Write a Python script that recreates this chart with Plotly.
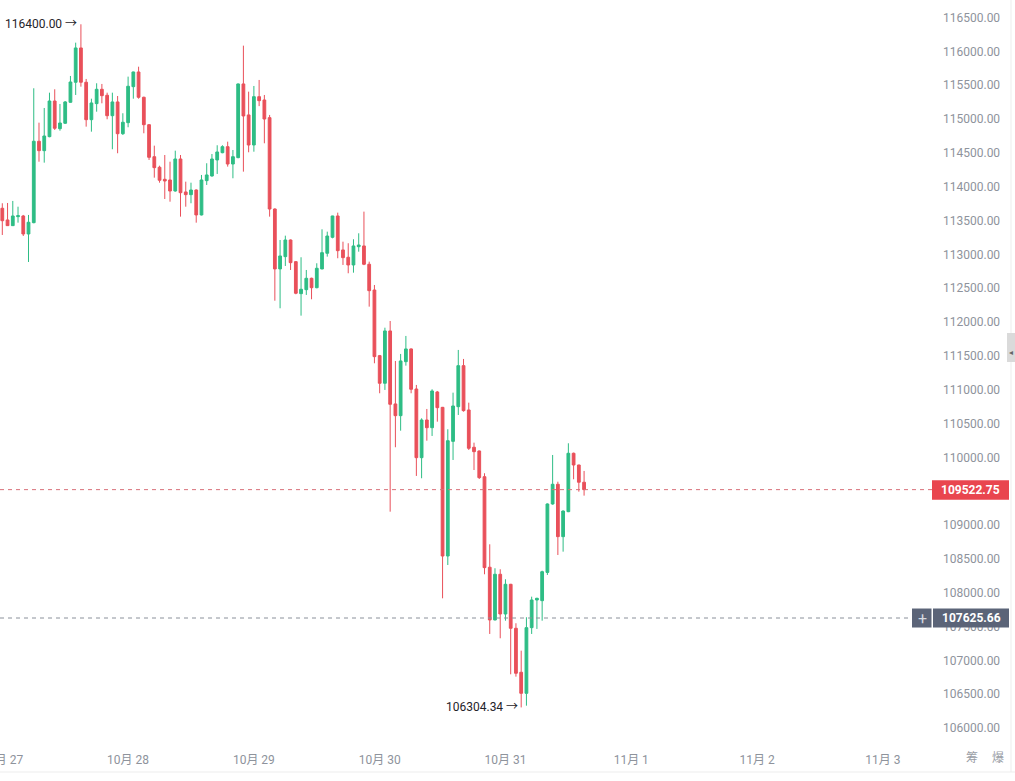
import pandas as pd
import plotly.graph_objects as go

# ---------------- data (hourly candles, from 10/27 00:00) ----------------
start_time = "2025-10-27 00:00"
opens = [113681, 113508, 113424, 113557, 113567, 113301, 113468, 114671, 114532, 114739,
         115266, 114857, 114937, 115247, 115543, 116050, 115543, 114990, 115227, 115439,
         115351, 115049, 115252, 114783, 114946, 115478, 115695, 115321, 114916, 114443,
         114287, 114109, 114099, 113936, 114409, 113922, 113882, 113951, 113582, 114089,
         114158, 114395, 114502, 114591, 114335, 114429, 115518, 115060, 114616, 115330,
         115281, 115020, 113670, 112784, 112966, 113212, 112892, 112419, 112478, 112646,
         112507, 112784, 113016, 113252, 113567, 113065, 112957, 112843, 113113, 113124,
         112853, 112473, 111503, 111095, 111868, 110789, 110616, 111414, 111602, 111010,
         109995, 110552, 110438, 110966, 110739, 108542, 110236, 110749, 111355, 110700,
         110149, 110094, 109714, 108376, 107597, 108272, 107685, 108124, 107474, 106824,
         106513, 107483, 107892, 107882, 108300, 109311, 109602, 108828, 109197, 110060,
         109887, 109632]
highs = [113755, 113759, 113789, 113704, 113582, 113582, 115454, 114946, 115163, 115389,
         115439, 115222, 115266, 115636, 116128, 116400, 115592, 115300, 115528, 115518,
         115389, 115389, 115340, 115085, 115626, 115700, 115773, 115330, 114925, 114606,
         114310, 114468, 114369, 114532, 114468, 114074, 114059, 113960, 114173, 114346,
         114483, 114612, 114612, 114665, 114542, 115525, 116084, 115404, 115488, 115577,
         115355, 115060, 113680, 113212, 113276, 113220, 112900, 112957, 112769, 112655,
         112868, 113370, 113335, 113570, 113616, 113187, 113164, 113223, 113311, 113631,
         112892, 112547, 111513, 111916, 112015, 111424, 111528, 111794, 111610, 111070,
         110577, 110715, 111006, 110981, 110745, 110415, 110956, 111587, 111454, 110808,
         110217, 110100, 109765, 108715, 108361, 108346, 108198, 108130, 107548, 107143,
         107637, 107941, 107925, 108325, 109320, 110035, 109640, 109215, 110208, 110070,
         109890, 109799]
lows = [113286, 113419, 113419, 113468, 113271, 112887, 113459, 114369, 114355, 114730,
        114838, 114827, 114926, 115241, 115355, 115478, 114887, 114813, 115108, 115232,
        114996, 114553, 114494, 114764, 114878, 115300, 115300, 114789, 114395, 114133,
        114059, 113818, 113778, 113926, 113557, 113704, 113755, 113468, 113575, 114025,
        114148, 114188, 114494, 114296, 114124, 114420, 114222, 114508, 114517, 115190,
        114641, 113557, 112315, 112203, 112828, 112769, 112410, 112094, 112400, 112336,
        112498, 112779, 112966, 113237, 112942, 112843, 112720, 112729, 113039, 112840,
        112227, 111390, 110947, 110996, 109197, 110149, 110394, 111355, 110947, 109725,
        109691, 110246, 110316, 110527, 107917, 108409, 109961, 110626, 110675, 110109,
        109813, 109680, 108272, 107390, 107590, 107326, 107586, 106794, 106759, 106304.34,
        106330, 107390, 107464, 107586, 108262, 109300, 108557, 108606, 109190, 109676,
        109493, 109434]
closes = [113497, 113424, 113567, 113571, 113301, 113474, 114671, 114532, 114749, 115266,
          114863, 114941, 115252, 115547, 116050, 115543, 114990, 115237, 115439, 115345,
          115049, 115252, 114783, 114952, 115484, 115695, 115321, 114916, 114434, 114281,
          114095, 114084, 113936, 114409, 113911, 113882, 113951, 113582, 114099, 114173,
          114409, 114513, 114591, 114335, 114443, 115518, 115045, 114616, 115330, 115271,
          115000, 113670, 112784, 112976, 113212, 112877, 112425, 112484, 112646, 112507,
          112794, 113025, 113271, 113567, 113054, 112951, 112843, 113124, 113138, 112853,
          112463, 111488, 111095, 111868, 110784, 110616, 111424, 111602, 111006, 109995,
          110552, 110438, 110981, 110734, 108542, 110246, 110759, 111355, 110690, 110134,
          110084, 109700, 108370, 107597, 108272, 107685, 108124, 107474, 106809, 106513,
          107483, 107892, 107917, 108310, 109311, 109602, 108828, 109207, 110060, 109887,
          109632, 109522.75]

high_label = 116400.00
low_label = 106304.34
last_price = 109522.75
cross_price = 107625.66

day_ticks = ["2025-10-27", "2025-10-28", "2025-10-29", "2025-10-30",
             "2025-10-31", "2025-11-01", "2025-11-02", "2025-11-03"]
day_text = ["10月 27", "10月 28", "10月 29", "10月 30", "10月 31", "11月 1", "11月 2", "11月 3"]

# ---------------- figure ----------------
times = pd.date_range(start_time, periods=len(opens), freq="h")

W, H = 1015, 781
L, R, T, B = 0, 85, 0, 36
PW, PH = W - L - R, H - T - B


def px_x(x):
    return (x - L) / PW


def px_y(y):
    return (H - B - y) / PH


GREEN = "#2EBD85"
RED = "#E9505A"
GRAY_TXT = "#8E939C"
FONT = "Roboto, 'Noto Sans CJK SC', sans-serif"

fig = go.Figure(go.Candlestick(
    x=times, open=opens, high=highs, low=lows, close=closes,
    increasing=dict(line=dict(color=GREEN, width=1), fillcolor=GREEN),
    decreasing=dict(line=dict(color=RED, width=1), fillcolor=RED),
    whiskerwidth=0, hoverinfo="skip", showlegend=False,
))

x0 = times[0] - pd.Timedelta(hours=0.44)
x1 = times[0] + pd.Timedelta(hours=177.0)
ymin, ymax = 105749, 116758.6
upp = (ymax - ymin) / PH  # value per pixel

shapes = [
    dict(type="line", xref="paper", yref="y", x0=0, x1=px_x(932), y0=last_price, y1=last_price,
         line=dict(color="#D9707A", width=1, dash="4px,4px"), layer="above"),
    dict(type="line", xref="paper", yref="y", x0=0, x1=px_x(912), y0=cross_price, y1=cross_price,
         line=dict(color="#8A909A", width=1, dash="4px,4px"), layer="above"),
    dict(type="rect", xref="paper", yref="y", x0=px_x(932), x1=px_x(1009),
         y0=last_price - 10 * upp, y1=last_price + 9.5 * upp,
         fillcolor="#E9464F", line=dict(width=0), layer="above"),
    dict(type="rect", xref="paper", yref="y", x0=px_x(933), x1=px_x(1009),
         y0=cross_price - 9.5 * upp, y1=cross_price + 9.5 * upp,
         fillcolor="#5B6478", line=dict(width=0), layer="above"),
    dict(type="rect", xref="paper", yref="y", x0=px_x(912), x1=px_x(931.5),
         y0=cross_price - 9.5 * upp, y1=cross_price + 9.5 * upp,
         fillcolor="#5B6478", line=dict(width=0), layer="above"),
    dict(type="line", xref="paper", yref="paper", x0=px_x(1011), x1=px_x(1011),
         y0=px_y(0), y1=px_y(772), line=dict(color="#EDEDED", width=1), layer="above"),
    dict(type="line", xref="paper", yref="paper", x0=0, x1=px_x(1015),
         y0=px_y(772), y1=px_y(772), line=dict(color="#EDEDED", width=1), layer="above"),
    dict(type="rect", xref="paper", yref="paper", x0=px_x(1007), x1=px_x(1015),
         y0=px_y(362), y1=px_y(333), fillcolor="#DADADA", line=dict(width=0), layer="above"),
]

annotations = [
    dict(x=times[15], y=high_label, xref="x", yref="y", text=f"{high_label:.2f} →",
         showarrow=False, xanchor="right", yanchor="middle", xshift=-2,
         font=dict(family=FONT, size=12, color="#1F2329")),
    dict(x=times[99], y=low_label, xref="x", yref="y", text=f"{low_label:.2f} →",
         showarrow=False, xanchor="right", yanchor="middle", xshift=-1,
         font=dict(family=FONT, size=12, color="#1F2329")),
    dict(x=px_x(970.5), y=last_price, xref="paper", yref="y", text=f"<b>{last_price:.2f}</b>",
         showarrow=False, xanchor="center", yanchor="middle",
         font=dict(family=FONT, size=12, color="white")),
    dict(x=px_x(971), y=cross_price, xref="paper", yref="y", text=f"<b>{cross_price:.2f}</b>",
         showarrow=False, xanchor="center", yanchor="middle",
         font=dict(family=FONT, size=12, color="white")),
    dict(x=px_x(922), y=cross_price, xref="paper", yref="y", text="+",
         showarrow=False, xanchor="center", yanchor="middle",
         font=dict(family=FONT, size=16, color="#D5D9E0")),
    dict(x=px_x(972), y=px_y(758), xref="paper", yref="paper", text="筹",
         showarrow=False, xanchor="center", yanchor="middle",
         font=dict(family=FONT, size=12, color="#9A9EA6")),
    dict(x=px_x(998), y=px_y(758), xref="paper", yref="paper", text="爆",
         showarrow=False, xanchor="center", yanchor="middle",
         font=dict(family=FONT, size=12, color="#9A9EA6")),
    dict(x=px_x(1010.5), y=px_y(352), xref="paper", yref="paper", text="◂",
         showarrow=False, xanchor="center", yanchor="middle",
         font=dict(family="DejaVu Sans", size=8, color="#666666")),
]

fig.update_layout(
    width=W, height=H,
    margin=dict(l=L, r=R, t=T, b=B, autoexpand=False),
    paper_bgcolor="white", plot_bgcolor="white",
    boxgap=0.25,
    shapes=shapes, annotations=annotations,
    xaxis=dict(
        type="date", range=[x0, x1], rangeslider=dict(visible=False),
        tickmode="array", tickvals=day_ticks, ticktext=day_text,
        showgrid=False, zeroline=False, showline=False, ticks="",
        tickfont=dict(family=FONT, size=12, color=GRAY_TXT),
        automargin=False, ticklabelstandoff=6, ticklabeloverflow="allow",
    ),
    yaxis=dict(
        side="right", range=[ymin, ymax], tick0=0, dtick=500, tickformat=".2f",
        showgrid=False, zeroline=False, showline=False, ticks="",
        tickfont=dict(family=FONT, size=12, color=GRAY_TXT),
        automargin=False, ticklabelstandoff=12,
    ),
    hovermode=False,
)

fig.write_html("out.html", config={"displayModeBar": False},
               post_script="document.body.style.margin='0';")
